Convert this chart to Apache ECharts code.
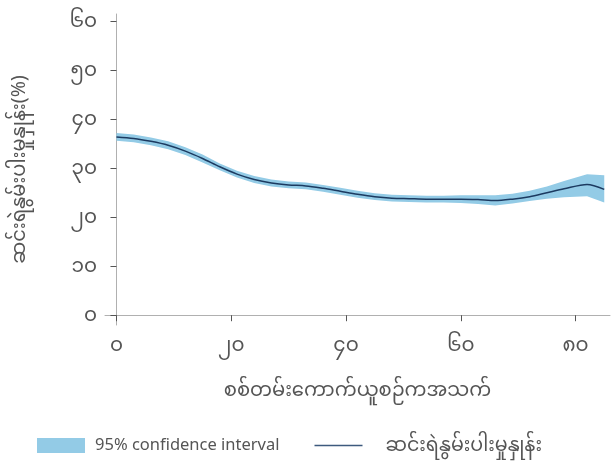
<!DOCTYPE html>
<html>
<head>
<meta charset="utf-8">
<script src="https://cdn.jsdelivr.net/npm/echarts@6/dist/echarts.min.js"></script>
<style>
html,body{margin:0;padding:0;background:#fff;}
#chart{width:612px;height:461px;}
</style>
</head>
<body>
<div id="chart"></div>
<script>
// Data
const ages = [0, 3, 6, 9, 12, 15, 18, 21, 24, 27, 30, 33, 36, 39, 42, 45, 48, 51, 54, 57, 60, 63, 66, 69, 72, 75, 78, 82, 85];
const povertyRate = [36.4, 36.1, 35.5, 34.7, 33.5, 32.0, 30.3, 28.8, 27.7, 27.0, 26.6, 26.4, 25.9, 25.3, 24.7, 24.2, 23.9, 23.8, 23.7, 23.7, 23.7, 23.6, 23.4, 23.7, 24.2, 25.0, 25.8, 26.7, 25.7];
const ciLower = [35.6, 35.3, 34.7, 33.9, 32.7, 31.2, 29.6, 28.1, 27.0, 26.3, 25.9, 25.7, 25.2, 24.6, 24.0, 23.5, 23.2, 23.1, 23.0, 23.0, 22.9, 22.7, 22.4, 22.8, 23.3, 23.8, 24.1, 24.3, 23.0];
const ciUpper = [37.2, 36.9, 36.3, 35.5, 34.3, 32.8, 31.0, 29.5, 28.4, 27.7, 27.3, 27.1, 26.6, 26.0, 25.4, 24.9, 24.6, 24.5, 24.4, 24.4, 24.5, 24.5, 24.5, 24.8, 25.4, 26.3, 27.4, 28.8, 28.6];
const xTickValues = [0, 20, 40, 60, 80];
const xTickLabels = ['၀', '၂၀', '၄၀', '၆၀', '၈၀'];
const yTickValues = [0, 10, 20, 30, 40, 50, 60];
const yTickLabels = ['၀', '၁၀', '၂၀', '၃၀', '၄၀', '၅၀', '၆၀'];
const xAxisName = 'စစ်တမ်းကောက်ယူစဉ်ကအသက်';
const yAxisName = 'ဆင်းရဲနွမ်းပါးမှုနှုန်း(%)';
const ciName = '95% confidence interval';
const lineName = 'ဆင်းရဲနွမ်းပါးမှုနှုန်း';

const bandData = ages.map((a, i) => [a, ciLower[i], ciUpper[i]]);
const lineData = ages.map((a, i) => [a, povertyRate[i]]);

const font = '"Noto Sans", "Noto Sans Myanmar", sans-serif';
const textColor = '#555555';
const axisColor = '#b0b0b0';
const bandColor = '#93cbe6';
const lineColor = '#1c3a60';

const chart = echarts.init(document.getElementById('chart'), null, {renderer: 'canvas'});
chart.setOption({
  animation: false,
  textStyle: {fontFamily: font},
  grid: {left: 105, right: 2, top: 14, bottom: 136, containLabel: false, outerBoundsMode: 'none'},
  legend: {
    bottom: 6,
    left: 37,
    padding: 0,
    itemWidth: 48,
    itemHeight: 15,
    itemGap: 35,
    symbolKeepAspect: true,
    textStyle: {fontSize: 16.5, color: textColor, fontFamily: font, padding: [0, 0, 0, 5]},
    data: [
      {name: ciName, icon: 'rect', itemStyle: {color: bandColor}},
      {name: lineName, icon: 'path://M0,0 L48,0 L48,1.5 L0,1.5 Z', itemStyle: {color: '#3d5a7e'},
       textStyle: {fontSize: 19, padding: [0, 0, 0, 18]}}
    ]
  },
  xAxis: {
    type: 'value',
    min: -2,
    max: 86,
    name: xAxisName,
    nameLocation: 'middle',
    nameGap: 55,
    nameTextStyle: {fontSize: 19.5, color: textColor},
    splitLine: {show: false},
    axisLine: {show: true, lineStyle: {color: axisColor, width: 1}},
    axisTick: {show: true, length: 6, customValues: xTickValues, lineStyle: {color: '#555'}},
    axisLabel: {
      customValues: xTickValues,
      fontSize: 20, color: textColor, margin: 10,
      formatter: v => xTickLabels[xTickValues.indexOf(v)]
    }
  },
  yAxis: {
    type: 'value',
    min: -2,
    max: 61.5,
    name: yAxisName,
    nameLocation: 'middle',
    nameGap: 76,
    nameRotate: 90,
    nameTextStyle: {fontSize: 19.5, color: textColor},
    splitLine: {show: false},
    axisLine: {show: true, lineStyle: {color: axisColor, width: 1}},
    axisTick: {show: true, length: 6, customValues: yTickValues, lineStyle: {color: '#555'}},
    axisLabel: {
      customValues: yTickValues,
      fontSize: 20, color: textColor, margin: 8,
      formatter: v => yTickLabels[yTickValues.indexOf(v)]
    }
  },
  series: [
    {
      name: ciName,
      type: 'custom',
      data: bandData,
      encode: {x: 0, y: [1, 2]},
      itemStyle: {color: bandColor},
      silent: true,
      z: 1,
      renderItem: function (params, api) {
        if (params.dataIndex !== 0) return null;
        const upper = bandData.map(d => api.coord([d[0], d[2]]));
        const lower = bandData.map(d => api.coord([d[0], d[1]])).reverse();
        return {
          type: 'polygon',
          shape: {points: upper.concat(lower)},
          style: {fill: bandColor, stroke: null}
        };
      }
    },
    {
      name: lineName,
      type: 'line',
      data: lineData,
      symbol: 'none',
      smooth: 0.3,
      z: 3,
      itemStyle: {color: lineColor},
      lineStyle: {color: lineColor, width: 1.5}
    }
  ]
});
</script>
</body>
</html>
